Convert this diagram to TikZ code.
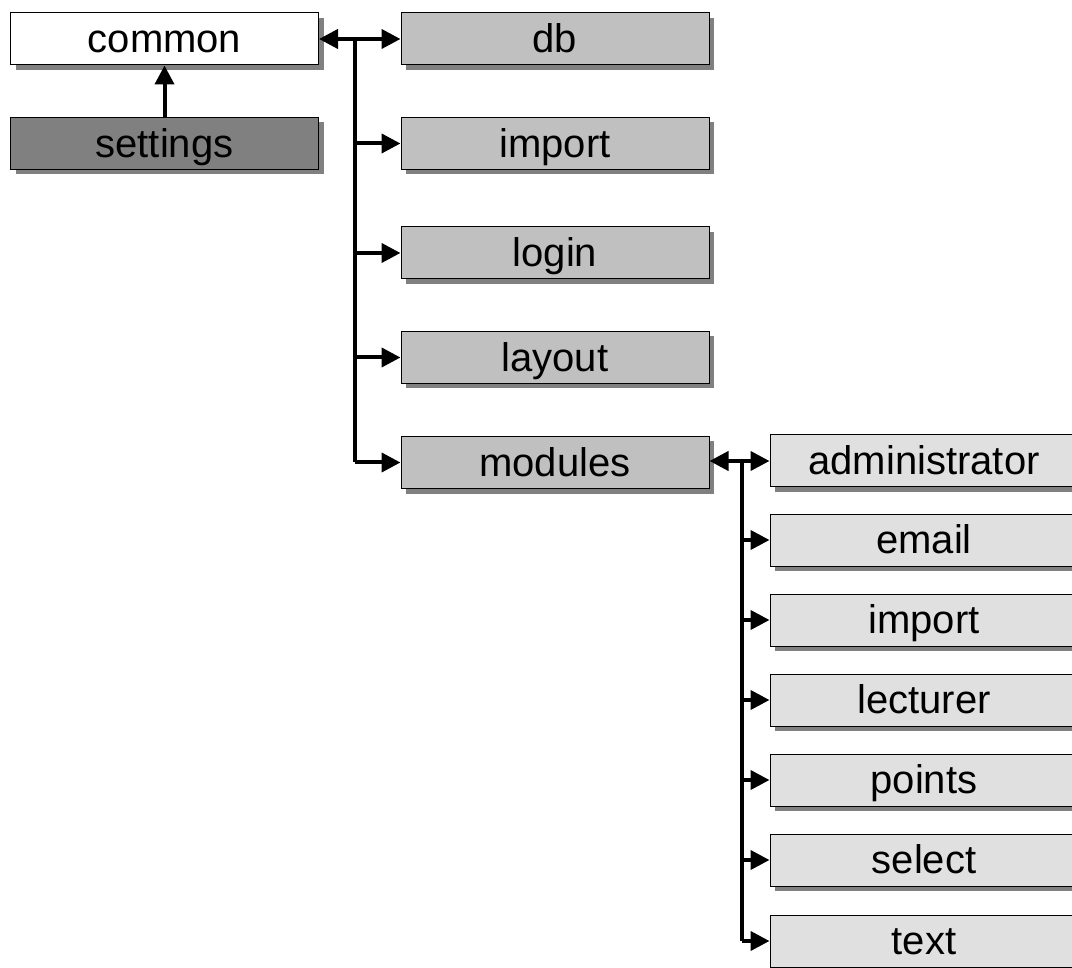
\documentclass[tikz,border=0pt]{standalone}
\usepackage{fontspec}
\setmainfont{Liberation Sans}
\usetikzlibrary{shadows,arrows.meta}
\begin{document}
\begin{tikzpicture}[x=1pt,y=-1pt,
  box/.style={draw=black, line width=1pt, minimum width=308pt, minimum height=52pt, inner sep=0pt,
    text height=36pt, text depth=8.5pt,
    font=\fontsize{40}{40}\selectfont,
    drop shadow={shadow xshift=5pt, shadow yshift=-5pt, fill=shadowgray, opacity=1}},
  topbox/.style={box, fill=white},
  setbox/.style={box, fill=darkbox},
  midbox/.style={box, fill=midbox},
  subbox/.style={box, fill=lightbox},
  conn/.style={line width=4pt, -{Triangle[length=19pt,width=19pt]}},
  busline/.style={line width=4pt}]
\definecolor{shadowgray}{RGB}{128,128,128}
\definecolor{darkbox}{RGB}{128,128,128}
\definecolor{midbox}{RGB}{192,192,192}
\definecolor{lightbox}{RGB}{224,224,224}
\clip (0,0) rectangle (1072,968);
\useasboundingbox (0,0) rectangle (1072,968);

\node[topbox] (common) at (164.5,39) {common};
\node[setbox] (settings) at (164.5,143.5) {settings};

\node[midbox] (db) at (555,39) {db};
\node[midbox] (import) at (555,143.5) {import};
\node[midbox] (login) at (555,253) {login};
\node[midbox] (layout) at (555,357.5) {layout};
\node[midbox] (modules) at (555,462.5) {modules};

\node[subbox] (admin) at (924,461) {administrator};
\node[subbox] (email) at (924,540) {email};
\node[subbox] (mimport) at (924,620) {import};
\node[subbox] (lecturer) at (924,700) {lecturer};
\node[subbox] (points) at (924,780) {points};
\node[subbox] (select) at (924,860) {select};
\node[subbox] (text) at (924,941) {text};

\draw[conn] (settings.north) -- (common.south);

\coordinate (busA) at (355,39);
\coordinate (busAend) at (355,462.5);
\draw[busline] (busA) -- (busAend);
\draw[conn] (busA) -- (common.east);
\foreach \n in {db,import,login,layout,modules}
  \draw[conn] (busA |- \n.west) -- (\n.west);

\coordinate (busB) at (742,461);
\coordinate (busBend) at (742,941);
\draw[busline] (busB) -- (busBend);
\draw[conn] (busB) -- (modules.east |- busB);
\foreach \n in {admin,email,mimport,lecturer,points,select,text}
  \draw[conn] (busB |- \n.west) -- (\n.west);
\end{tikzpicture}
\end{document}
